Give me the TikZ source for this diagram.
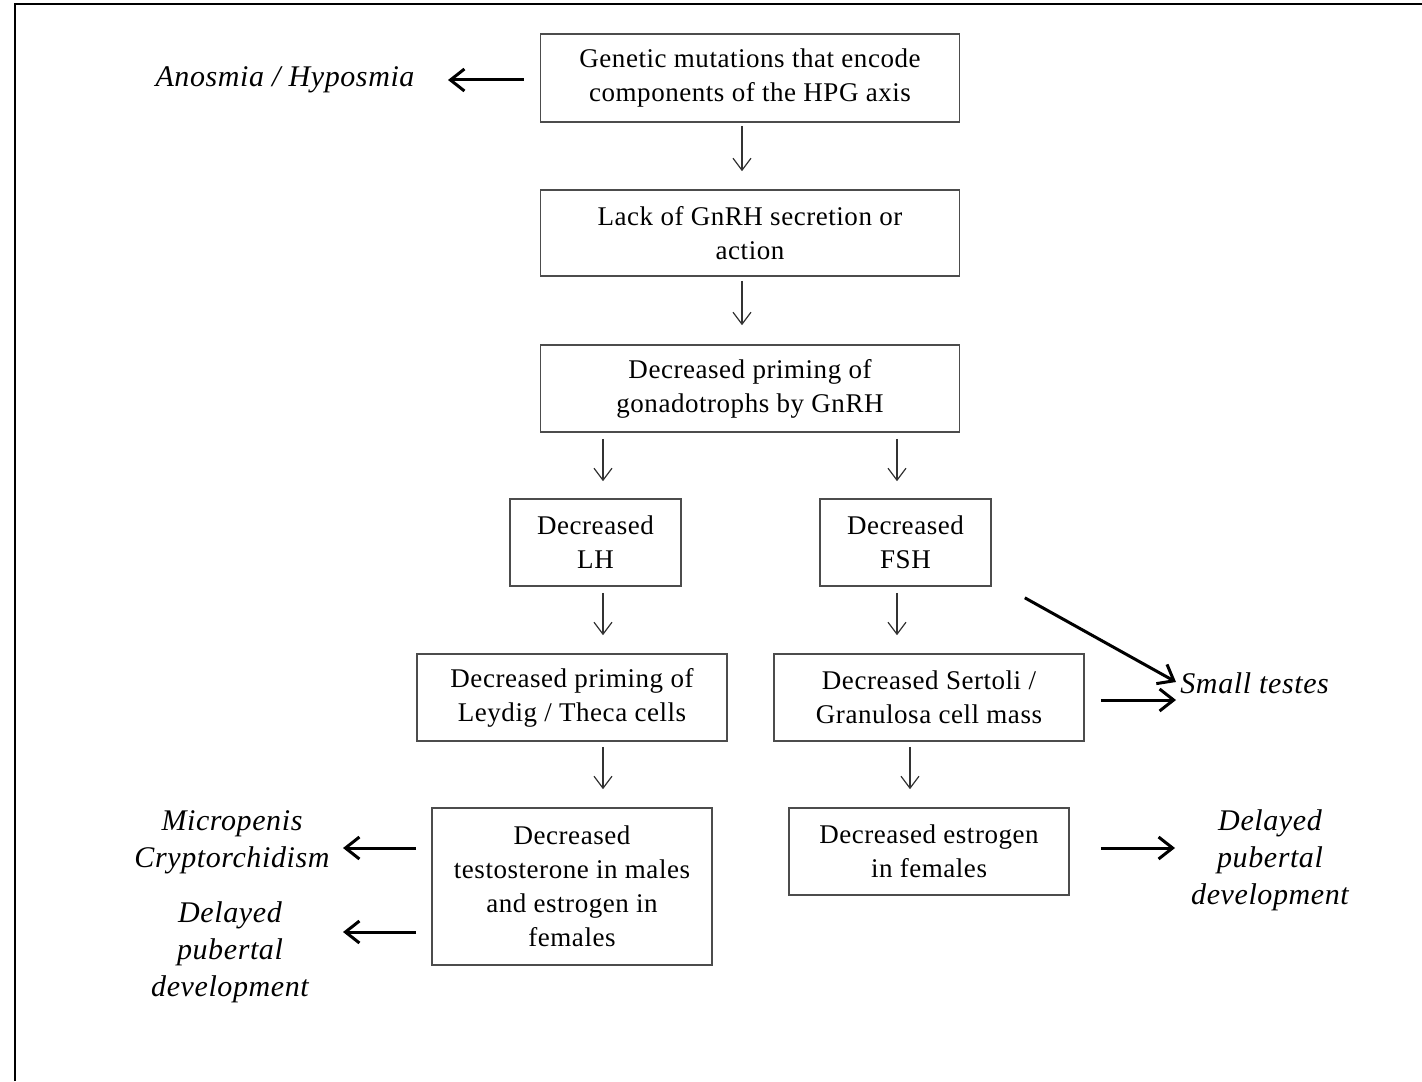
\documentclass[tikz,border=0pt]{standalone}
\usepackage{fontspec}
\setmainfont{Liberation Serif}
\newfontfamily\flowfont[LetterSpace=2.0]{Liberation Serif}
\usetikzlibrary{arrows.meta}
\begin{document}
\begin{tikzpicture}[x=0.5pt,y=-0.5pt,
  box/.style={draw=black!70, line width=0.8pt, align=center, inner sep=0pt,
              font=\flowfont\fontsize{13.5}{17}\selectfont},
  thin/.style={-{Straight Barb[length=6pt,width=9pt]}, line width=0.6pt, black!80},
  thick/.style={-{Straight Barb[length=7pt,width=11pt]}, line width=1.5pt},
  lbl/.style={align=center, inner sep=0pt,
              font=\flowfont\fontsize{15}{18.5}\selectfont\itshape}]
  \useasboundingbox (0,0) rectangle (1422,1081);
  % frame edges
  \draw[line width=1pt] (15,1081) -- (15,4) -- (1422,4);

  % boxes
  \node[box, minimum width=209.5pt, minimum height=44pt] (gen) at (750,78)
    {Genetic mutations that encode\\components of the HPG axis};
  \node[box, minimum width=209.5pt, minimum height=43pt] (gnrh) at (750,233)
    {Lack of GnRH secretion or\\action};
  \node[box, minimum width=209.5pt, minimum height=43.5pt] (prim) at (750,388.5)
    {Decreased priming of\\gonadotrophs by GnRH};
  \node[box, minimum width=85.5pt, minimum height=43.5pt] (lh) at (595.5,542.5)
    {Decreased\\LH};
  \node[box, minimum width=85.5pt, minimum height=43.5pt] (fsh) at (905.5,542.5)
    {Decreased\\FSH};
  \node[box, minimum width=155pt, minimum height=43.5pt] (ley) at (572,697.5)
    {Decreased priming of\\Leydig / Theca cells};
  \node[box, minimum width=155pt, minimum height=43.5pt] (ser) at (929,697.5)
    {Decreased Sertoli /\\Granulosa cell mass};
  \node[box, minimum width=140pt, minimum height=78.5pt] (tes) at (572,886.5)
    {Decreased\\testosterone in males\\and estrogen in\\females};
  \node[box, minimum width=140pt, minimum height=43.5pt] (est) at (929,851.5)
    {Decreased estrogen\\in females};

  % outcome labels
  \node[lbl] (anos) at (285,80) {Anosmia / Hyposmia};
  \node[lbl] (micro) at (232,842) {Micropenis\\Cryptorchidism};
  \node[lbl] (delL) at (230,952) {Delayed\\pubertal\\development};
  \node[lbl] (delR) at (1270,860) {Delayed\\pubertal\\development};
  \node[lbl, anchor=west] (small) at (1180,683) {Small testes};

  % vertical flow between boxes
  \draw[thin, shorten <=1.5pt, shorten >=9pt]
    ([xshift=-4pt]gen.south) -- ([xshift=-4pt]gnrh.north);
  \draw[thin, shorten <=2pt, shorten >=9.5pt]
    ([xshift=-4pt]gnrh.south) -- ([xshift=-4pt]prim.north);
  \draw[thin, shorten <=3pt, shorten >=8.5pt]
    ([xshift=3.75pt]lh.north |- prim.south) -- ([xshift=3.75pt]lh.north);
  \draw[thin, shorten <=3pt, shorten >=8.5pt]
    ([xshift=-4.25pt]fsh.north |- prim.south) -- ([xshift=-4.25pt]fsh.north);
  \draw[thin, shorten <=3pt, shorten >=9pt]
    ([xshift=3.75pt]lh.south) -- ([xshift=3.75pt]lh.south |- ley.north);
  \draw[thin, shorten <=3pt, shorten >=9pt]
    ([xshift=-4.25pt]fsh.south) -- ([xshift=-4.25pt]fsh.south |- ser.north);
  \draw[thin, shorten <=2.5pt, shorten >=9pt]
    ([xshift=15.5pt]ley.south) -- ([xshift=15.5pt]ley.south |- tes.north);
  \draw[thin, shorten <=2.5pt, shorten >=9pt]
    ([xshift=-9.5pt]ser.south) -- ([xshift=-9.5pt]ser.south |- est.north);

  % free ends of the consequence arrows
  \coordinate (anosIn) at (448,80);
  \coordinate (microIn) at (343,848);
  \coordinate (delLIn) at (343,932);
  \coordinate (delRIn) at (1175,848);
  \coordinate (smallInA) at (1176,700);
  \coordinate (smallInB) at (1176,682);

  % consequences
  \draw[thick, shorten <=8pt] (gen.west |- anosIn) -- (anosIn);
  \draw[thick, shorten <=7.5pt] (tes.west |- microIn) -- (microIn);
  \draw[thick, shorten <=7.5pt] (tes.west |- delLIn) -- (delLIn);
  \draw[thick, shorten <=15.5pt] (est.east |- delRIn) -- (delRIn);
  \draw[thick, shorten <=8pt] (ser.east |- smallInA) -- (smallInA);
  \draw[thick] ([shift={(16.5pt,-5.5pt)}]fsh.south east) -- (smallInB);
\end{tikzpicture}
\end{document}
